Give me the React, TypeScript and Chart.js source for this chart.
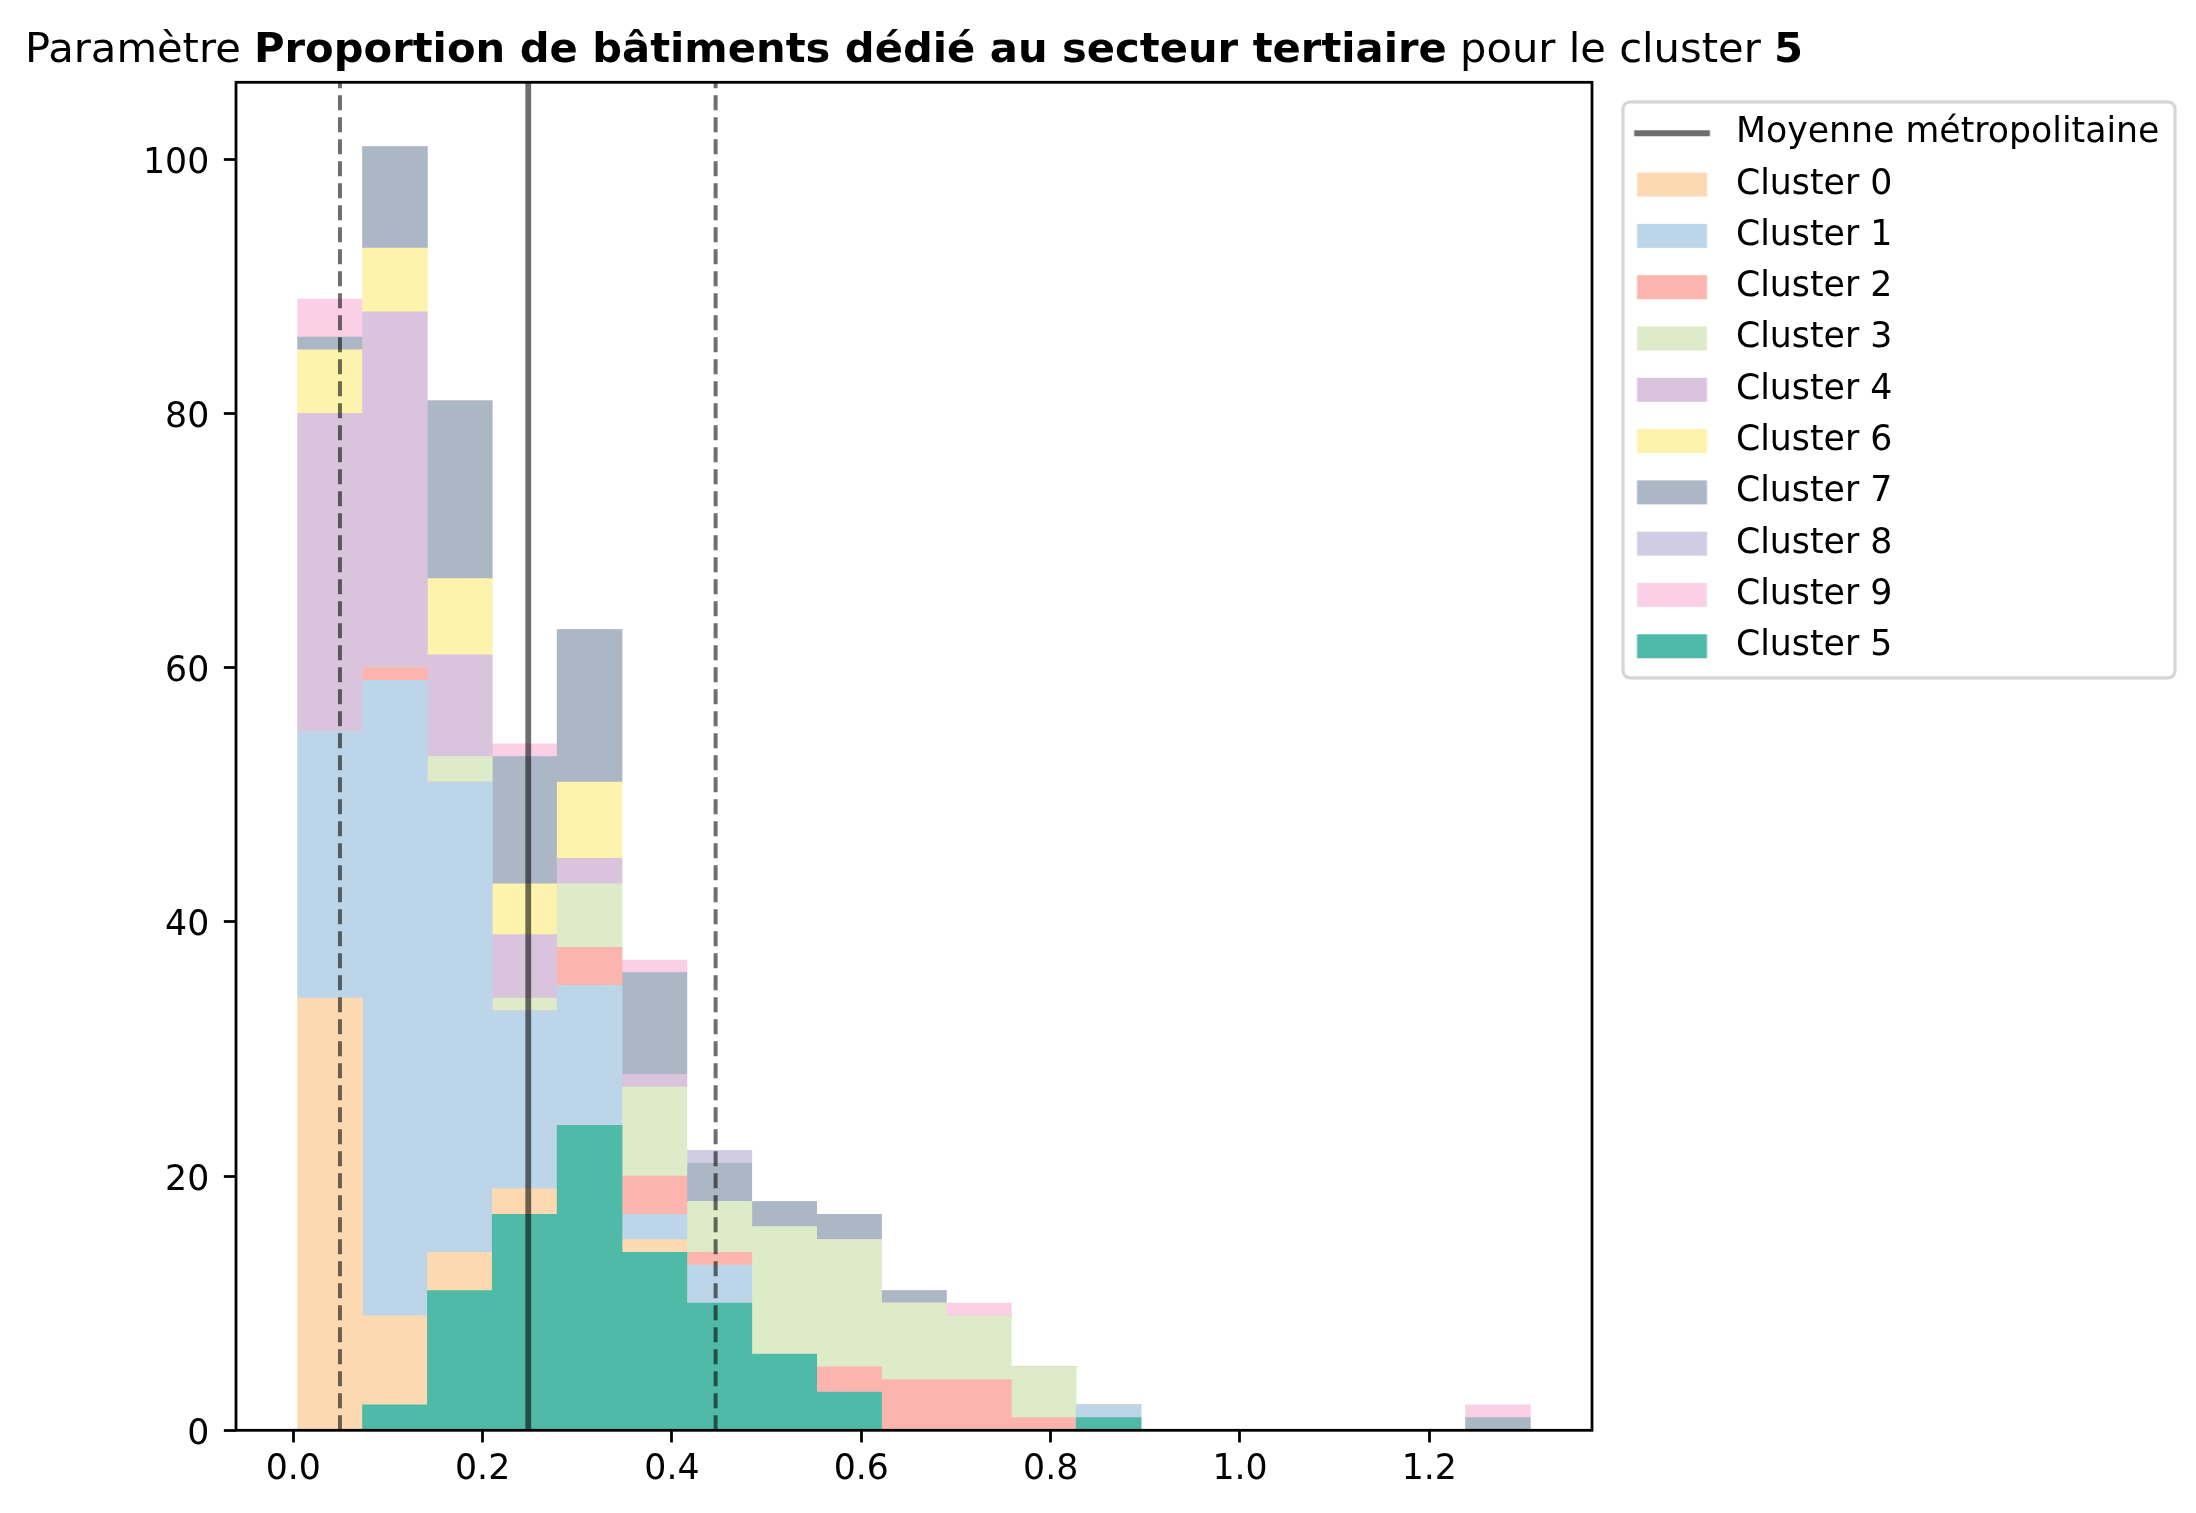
import React, { useEffect, useRef } from 'react';
import { Chart, registerables } from 'chart.js';

Chart.register(...registerables);

// ---------- data ----------
const binEdges = [
  0.0046, 0.073132, 0.141664, 0.210196, 0.278728, 0.34726, 0.415792, 0.484324,
  0.552856, 0.621388, 0.68992, 0.758452, 0.826984, 0.895516, 0.964048, 1.03258,
  1.101112, 1.169644, 1.238176, 1.306708,
];

const cluster0 = [34, 9, 14, 19, 0, 15, 0, 0, 0, 0, 0, 0, 0, 0, 0, 0, 0, 0, 0];
const cluster1 = [21, 50, 37, 14, 35, 2, 13, 0, 0, 0, 0, 0, 2, 0, 0, 0, 0, 0, 0];
const cluster2 = [0, 1, 0, 0, 3, 3, 1, 0, 5, 4, 4, 1, 0, 0, 0, 0, 0, 0, 0];
const cluster3 = [0, 0, 2, 1, 5, 7, 4, 16, 10, 6, 5, 4, 0, 0, 0, 0, 0, 0, 0];
const cluster4 = [25, 28, 8, 5, 2, 1, 0, 0, 0, 0, 0, 0, 0, 0, 0, 0, 0, 0, 0];
const cluster6 = [5, 5, 6, 4, 6, 0, 0, 0, 0, 0, 0, 0, 0, 0, 0, 0, 0, 0, 0];
const cluster7 = [1, 8, 14, 10, 12, 8, 3, 2, 2, 1, 0, 0, 0, 0, 0, 0, 0, 0, 1];
const cluster8 = [0, 0, 0, 0, 0, 0, 1, 0, 0, 0, 0, 0, 0, 0, 0, 0, 0, 0, 0];
const cluster9 = [3, 0, 0, 1, 0, 1, 0, 0, 0, 0, 1, 0, 0, 0, 0, 0, 0, 0, 1];
const cluster5 = [0, 2, 11, 17, 24, 14, 10, 6, 3, 0, 0, 0, 1, 0, 0, 0, 0, 0, 0];

const stackedLabels = ['Cluster 0', 'Cluster 1', 'Cluster 2', 'Cluster 3', 'Cluster 4', 'Cluster 6', 'Cluster 7', 'Cluster 8', 'Cluster 9'];
const stackedValues = [cluster0, cluster1, cluster2, cluster3, cluster4, cluster6, cluster7, cluster8, cluster9];
const focusLabel = 'Cluster 5';

const meanLabel = 'Moyenne métropolitaine';
const meanValue = 0.2482;
const focusBounds = [0.0493, 0.4461];

const xTickValues = [0, 0.2, 0.4, 0.6, 0.8, 1.0, 1.2];
const yTickValues = [0, 20, 40, 60, 80, 100];

const titleParts = [
  { text: 'Paramètre ', bold: false },
  { text: 'Proportion de bâtiments dédié au secteur tertiaire', bold: true },
  { text: ' pour le cluster ', bold: false },
  { text: '5', bold: true },
];

// ---------- styles ----------
const stackedColors = ['#fcd9b0', '#bdd5e8', '#fbb5ae', '#deebc8', '#dac3dc', '#fef3ad', '#abb7c4', '#d0cce3', '#fbd0e7'];
const focusColor = '#4fbaa8';
const lineColor = 'rgba(0,0,0,0.57)';

const W = 2196;
const H = 1513;
const PLOT_LEFT = 236;
const PLOT_RIGHT = 1592;
const PLOT_TOP = 82.3;
const PLOT_BOTTOM = 1430.3;
const FONT = "'DejaVu Sans', sans-serif";
const TICK_SIZE = 34.72;
const TITLE_SIZE = 41.67;
const HANDLE_W = 110;
const HANDLE_OFF = 28.42;
const LEGEND_PAD = 16.58;

function makePatchHandle(color: string) {
  const c = document.createElement('canvas');
  c.width = HANDLE_W;
  c.height = 26;
  const g = c.getContext('2d')!;
  g.fillStyle = color;
  g.fillRect(HANDLE_OFF, 1, 70, 24);
  return c;
}

function makeLineHandle(color: string, lw: number) {
  const c = document.createElement('canvas');
  c.width = HANDLE_W;
  c.height = 26;
  const g = c.getContext('2d')!;
  g.strokeStyle = color;
  g.lineWidth = lw;
  g.lineCap = 'butt';
  g.beginPath();
  g.moveTo(HANDLE_OFF - 2.9, 13);
  g.lineTo(HANDLE_OFF + 70 + 2.9, 13);
  g.stroke();
  return c;
}

export default function App() {
  const ref = useRef<HTMLCanvasElement>(null);

  useEffect(() => {
    document.body.style.margin = '0';
    const canvas = ref.current!;
    Chart.defaults.font.family = FONT;

    const binCenters = binEdges.slice(0, -1).map((e, i) => (e + binEdges[i + 1]) / 2);
    const span = binEdges[binEdges.length - 1] - binEdges[0];
    const xMin = binEdges[0] - 0.05 * span;
    const xMax = binEdges[binEdges.length - 1] + 0.05 * span;
    const totals = binCenters.map((_, i) => stackedValues.reduce((s, arr) => s + arr[i], 0));
    const yMax = 1.05 * Math.max(...totals, ...cluster5);
    const toPoints = (arr: number[]) => arr.map((v, i) => ({ x: binCenters[i], y: v }));

    // legend width to place plot right edge
    const mctx = document.createElement('canvas').getContext('2d')!;
    mctx.font = `normal ${TICK_SIZE}px ${FONT}`;
    const allLegendTexts = [meanLabel, ...stackedLabels, focusLabel];
    const maxText = Math.max(...allLegendTexts.map((t) => mctx.measureText(t).width));
    const legendWidth = LEGEND_PAD + HANDLE_W + TICK_SIZE / 2 + maxText + 10;
    const padRight = W - PLOT_RIGHT - legendWidth;

    const lineHandle = makeLineHandle(lineColor, 5.8);
    const patchHandles = stackedColors.map((c) => makePatchHandle(c));
    const focusHandle = makePatchHandle(focusColor);

    const barCommon = {
      type: 'bar' as const,
      barPercentage: 1,
      categoryPercentage: 1,
      grouped: false,
      borderWidth: 0,
      yAxisID: 'y',
    };

    const datasets: any[] = [
      {
        type: 'line',
        label: meanLabel,
        data: [{ x: meanValue, y: 0 }, { x: meanValue, y: 1 }],
        xAxisID: 'x',
        yAxisID: 'yl',
        borderColor: lineColor,
        borderWidth: 5.8,
        pointRadius: 0,
        fill: false,
        order: 0,
      },
      ...focusBounds.map((b) => ({
        type: 'line',
        label: 'borne',
        data: [{ x: b, y: 0 }, { x: b, y: 1 }],
        xAxisID: 'x',
        yAxisID: 'yl',
        borderColor: lineColor,
        borderWidth: 4,
        borderDash: [15, 7],
        pointRadius: 0,
        fill: false,
        order: 0,
      })),
      {
        ...barCommon,
        label: focusLabel,
        data: toPoints(cluster5),
        xAxisID: 'x2',
        backgroundColor: focusColor,
        order: 1,
      },
      ...stackedLabels.map((lab, k) => ({
        ...barCommon,
        label: lab,
        data: toPoints(stackedValues[k]),
        xAxisID: 'x',
        backgroundColor: stackedColors[k],
        order: 2,
      })),
    ];

    const tickGrid = {
      display: true,
      drawOnChartArea: false,
      drawTicks: true,
      tickLength: 12.15,
      tickWidth: 2.78,
      tickColor: '#000',
      offset: false,
    };

    const titlePlugin = {
      id: 'mplTitle',
      afterDraw(chart: any) {
        const { ctx, chartArea } = chart;
        ctx.save();
        const fonts = titleParts.map((p) => `${p.bold ? 'bold ' : ''}${TITLE_SIZE}px ${FONT}`);
        const widths = titleParts.map((p, i) => {
          ctx.font = fonts[i];
          return ctx.measureText(p.text).width;
        });
        const total = widths.reduce((a, b) => a + b, 0);
        let x = (chartArea.left + chartArea.right) / 2 - total / 2;
        const y = chartArea.top - 20.7;
        ctx.fillStyle = '#000';
        ctx.textAlign = 'left';
        ctx.textBaseline = 'alphabetic';
        titleParts.forEach((p, i) => {
          ctx.font = fonts[i];
          ctx.fillText(p.text, x, y);
          x += widths[i];
        });
        ctx.restore();
      },
    };

    const framePlugin = {
      id: 'mplFrame',
      beforeDraw(chart: any) {
        const { ctx, chartArea } = chart;
        ctx.save();
        ctx.fillStyle = '#fff';
        ctx.fillRect(0, 0, chart.width, chart.height);
        // legend frame
        const fx = chartArea.right + 31;
        const fy = chartArea.top + 19.5;
        const fw = 552;
        const fh = 576;
        const r = 7;
        ctx.beginPath();
        ctx.moveTo(fx + r, fy);
        ctx.lineTo(fx + fw - r, fy);
        ctx.arcTo(fx + fw, fy, fx + fw, fy + r, r);
        ctx.lineTo(fx + fw, fy + fh - r);
        ctx.arcTo(fx + fw, fy + fh, fx + fw - r, fy + fh, r);
        ctx.lineTo(fx + r, fy + fh);
        ctx.arcTo(fx, fy + fh, fx, fy + fh - r, r);
        ctx.lineTo(fx, fy + r);
        ctx.arcTo(fx, fy, fx + r, fy, r);
        ctx.closePath();
        ctx.fillStyle = '#fff';
        ctx.fill();
        ctx.strokeStyle = '#d6d6d6';
        ctx.lineWidth = 3.2;
        ctx.stroke();
        ctx.restore();
      },
      afterDatasetsDraw(chart: any) {
        const { ctx, chartArea } = chart;
        ctx.save();
        ctx.strokeStyle = '#000';
        ctx.lineWidth = 2.78;
        ctx.strokeRect(chartArea.left, chartArea.top, chartArea.right - chartArea.left, chartArea.bottom - chartArea.top);
        ctx.restore();
      },
    };

    const chart = new Chart(canvas, {
      type: 'bar',
      data: { datasets },
      options: {
        animation: false,
        responsive: false,
        devicePixelRatio: 1,
        events: [],
        layout: {
          padding: { top: PLOT_TOP, left: 0, right: padRight, bottom: 0 },
        },
        scales: {
          x: {
            type: 'linear',
            min: xMin,
            max: xMax,
            offset: false,
            stacked: true,
            afterBuildTicks: (s: any) => {
              s.ticks = xTickValues.map((v) => ({ value: v }));
            },
            afterFit: (s: any) => {
              s.height = H - PLOT_BOTTOM;
            },
            grid: tickGrid,
            border: { display: false },
            ticks: {
              font: { size: TICK_SIZE },
              color: '#000',
              padding: 6.8,
              maxRotation: 0,
              minRotation: 0,
              autoSkip: false,
              callback: (v: any) => Number(v).toFixed(1),
            },
          },
          x2: {
            type: 'linear',
            min: xMin,
            max: xMax,
            offset: false,
            stacked: true,
            display: false,
            afterBuildTicks: (s: any) => {
              s.ticks = xTickValues.map((v) => ({ value: v }));
            },
          },
          y: {
            type: 'linear',
            min: 0,
            max: yMax,
            stacked: true,
            afterBuildTicks: (s: any) => {
              s.ticks = yTickValues.map((v) => ({ value: v }));
            },
            afterFit: (s: any) => {
              s.width = PLOT_LEFT;
            },
            grid: tickGrid,
            border: { display: false },
            ticks: {
              font: { size: TICK_SIZE },
              color: '#000',
              padding: 14.55,
              labelOffset: 4.5,
              autoSkip: false,
              callback: (v: any) => String(Math.round(Number(v))),
            },
          },
          yl: {
            type: 'linear',
            min: 0,
            max: 1,
            display: false,
          },
        },
        plugins: {
          tooltip: { enabled: false },
          title: { display: false },
          legend: {
            display: true,
            position: 'right',
            align: 'start',
            maxWidth: 1200,
            onClick: () => {},
            title: {
              display: true,
              text: '',
              padding: { top: 7, bottom: 0 },
              font: { size: 10, lineHeight: 1 },
            },
            labels: {
              usePointStyle: true,
              pointStyleWidth: HANDLE_W,
              boxHeight: 24,
              padding: LEGEND_PAD,
              color: '#000',
              font: { size: TICK_SIZE },
              generateLabels: () => {
                const items: any[] = [];
                items.push({
                  text: meanLabel,
                  fillStyle: lineColor,
                  strokeStyle: lineColor,
                  lineWidth: 0,
                  pointStyle: lineHandle,
                  hidden: false,
                  datasetIndex: 0,
                  fontColor: '#000',
                });
                stackedLabels.forEach((lab, k) => {
                  items.push({
                    text: lab,
                    fillStyle: stackedColors[k],
                    strokeStyle: stackedColors[k],
                    lineWidth: 0,
                    pointStyle: patchHandles[k],
                    hidden: false,
                    datasetIndex: 4 + k,
                    fontColor: '#000',
                  });
                });
                items.push({
                  text: focusLabel,
                  fillStyle: focusColor,
                  strokeStyle: focusColor,
                  lineWidth: 0,
                  pointStyle: focusHandle,
                  hidden: false,
                  datasetIndex: 3,
                  fontColor: '#000',
                });
                return items;
              },
            },
          },
        },
      } as any,
      plugins: [titlePlugin, framePlugin],
    });

    return () => {
      chart.destroy();
    };
  }, []);

  return (
    <canvas
      ref={ref}
      width={W}
      height={H}
      style={{ display: 'block', width: `${W}px`, height: `${H}px` }}
    />
  );
}
